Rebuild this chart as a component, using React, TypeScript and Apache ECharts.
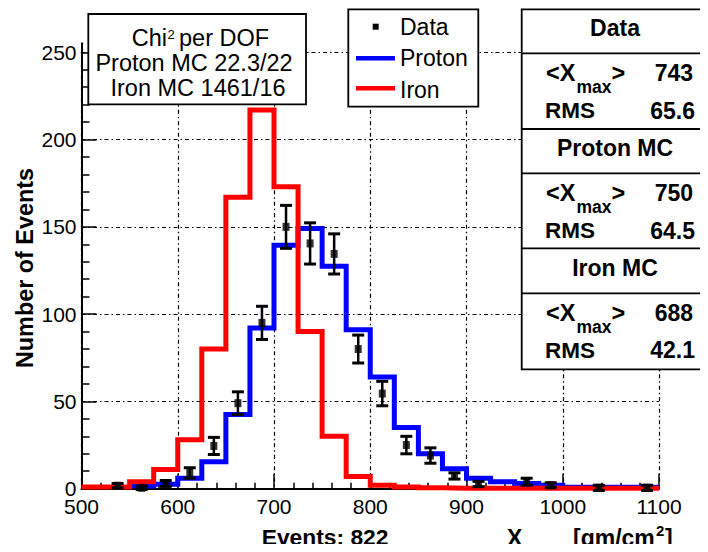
import { useEffect, useRef } from "react";
import * as echarts from "echarts";

// Histogram bins (lower edges, width 25 g/cm^2)
const binLow = [
  500, 525, 550, 575, 600, 625, 650, 675, 700, 725, 750, 775,
  800, 825, 850, 875, 900, 925, 950, 975, 1000, 1025, 1050, 1075,
];
const binWidth = 25;

// Monte Carlo predictions, normalised to the data
const protonMC = [
  null, null, 1.5, 2.5, 6, 15.5, 42.5, 92, 139.5, 149, 127.5, 91,
  64, 35, 20, 11.5, 6, 4, 3, 2, 0.8, 0.8, 0.8, 0.8,
];
const ironMC = [
  1, 1, 4, 11, 28, 80, 167, 217, 173, 90, 30, 7,
  2, 1, 0.5, 0.3, 0.2, 0.2, 0.2, 0.2, 0.2, 0.2, 0.2, 0.2,
];

// Measured events at bin centres, with their statistical errors
const dataX = [
  537.5, 562.5, 587.5, 612.5, 637.5, 662.5, 687.5, 712.5, 737.5, 762.5,
  787.5, 812.5, 837.5, 862.5, 887.5, 912.5, 962.5, 987.5, 1037.5, 1087.5,
];
const dataY = [
  1.7, 0.5, 3, 9, 24.5, 49, 95, 150, 140.5, 134.5,
  80, 54.5, 25, 19, 7.3, 2.7, 4, 2, 0.5, 0.5,
];
const dataErr = [
  1.3, 1, 1.7, 3, 4.9, 6.5, 9.5, 12.3, 11.8, 11.5,
  8, 7, 5, 4.4, 1.8, 1.5, 2, 1.4, 1.5, 1.5,
];

// Summary statistics
const chiLines = ["Proton MC 22.3/22", "Iron MC 1461/16"];
const statBlocks = [
  { title: "Data", mean: "743", rms: "65.6" },
  { title: "Proton MC", mean: "750", rms: "64.5" },
  { title: "Iron MC", mean: "688", rms: "42.1" },
];
const totalEvents = 822;

const FONT = '"Liberation Sans", Arial, sans-serif';

function stepData(values: (number | null)[]) {
  const pts: (number | null)[][] = binLow.map((x, i) => [x, values[i]]);
  pts.push([binLow[binLow.length - 1] + binWidth, values[values.length - 1]]);
  return pts;
}

function txt(
  text: string,
  x: number,
  y: number,
  size: number,
  opts: { bold?: boolean; align?: string; rotation?: number } = {}
) {
  const align = opts.align || "left";
  return {
    type: "text",
    x,
    y,
    rotation: opts.rotation || 0,
    z: 60,
    style: {
      text,
      font: `${opts.bold ? "bold " : ""}${size}px ${FONT}`,
      fill: "#000",
      textAlign: align,
      align,
      textVerticalAlign: "middle",
      verticalAlign: "middle",
    },
  };
}

function rect(x: number, y: number, w: number, h: number) {
  return {
    type: "rect",
    z: 50,
    shape: { x, y, width: w, height: h },
    style: { fill: "#fff", stroke: "#000", lineWidth: 1.8 },
  };
}

function hline(x1: number, x2: number, y: number, color: string, w: number) {
  return {
    type: "line",
    z: 55,
    shape: { x1, y1: y, x2, y2: y },
    style: { stroke: color, lineWidth: w },
  };
}

function buildGraphic() {
  const g: any[] = [];

  // Chi^2 box
  g.push(rect(88.3, 14, 217.7, 90.3));
  g.push(txt("Chi", 167, 38.3, 23.5, { align: "right" }));
  g.push(txt("2", 167.5, 34.5, 13));
  g.push(txt("per DOF", 179, 38.3, 23.5));
  g.push(txt(chiLines[0], 194, 63.3, 23.5, { align: "center" }));
  g.push(txt(chiLines[1], 198, 88.3, 23.5, { align: "center" }));

  // Legend box
  g.push(rect(348.3, 9.3, 130, 97.4));
  g.push({
    type: "rect",
    z: 56,
    shape: { x: 372.7, y: 23.7, width: 6, height: 6 },
    style: { fill: "#000" },
  });
  g.push(hline(356, 395, 58.3, "#0000ff", 4.5));
  g.push(hline(356, 395, 88.3, "#ff0000", 4.5));
  g.push(txt("Data", 400, 26.7, 23));
  g.push(txt("Proton", 400, 58.3, 23));
  g.push(txt("Iron", 400, 89.5, 23));

  // Statistics box
  g.push(rect(521.7, 9.3, 190, 360));
  [53.3, 129, 173.3, 248.3, 293.3].forEach((y) => g.push(hline(521.7, 708, y, "#000", 1.8)));
  const titleY = [28.3, 148.3, 268.3];
  const meanY = [73, 193, 313];
  const rmsY = [110.5, 230.5, 350];
  statBlocks.forEach((b, i) => {
    g.push(txt(b.title, 615, titleY[i], 23, { bold: true, align: "center" }));
    g.push(txt("<X", 546, meanY[i], 23.5, { bold: true }));
    g.push(txt("max", 576.5, meanY[i] + 13.5, 17.5, { bold: true }));
    g.push(txt(">", 611.5, meanY[i], 23.5, { bold: true }));
    g.push(txt(b.mean, 693, meanY[i], 23, { bold: true, align: "right" }));
    g.push(txt("RMS", 545, rmsY[i], 22.5, { bold: true }));
    g.push(txt(b.rms, 695, rmsY[i], 23, { bold: true, align: "right" }));
  });

  // Axis titles
  g.push(txt("Number of Events", 25, 268, 23.4, { bold: true, align: "center", rotation: Math.PI / 2 }));
  g.push(txt(`Events: ${totalEvents}`, 261.7, 537, 22.8, { bold: true }));
  g.push(txt("X", 507, 538, 23, { bold: true }));
  g.push(txt("max", 522.5, 551, 17, { bold: true }));
  g.push(txt("[gm/cm", 573, 538, 23, { bold: true }));
  g.push(txt("2", 656, 530, 15, { bold: true }));
  g.push(txt("]", 665, 538, 23, { bold: true }));
  return g;
}

const gridLineStyle = { color: "#000", width: 1.2, type: [4, 3, 1.5, 3] as number[] };

export default function App() {
  const ref = useRef<HTMLDivElement>(null);

  useEffect(() => {
    if (!ref.current) return;
    const chart = echarts.init(ref.current, undefined, { renderer: "svg" });

    const option: any = {
      animation: false,
      backgroundColor: "#fff",
      textStyle: { fontFamily: FONT },
      grid: [
        { left: 81.5, right: 49, top: 52.3, bottom: 63.3 },
        { left: 81.5, right: 49, top: 43.3, bottom: 63.3 },
      ],
      xAxis: [
        {
          type: "value",
          gridIndex: 0,
          min: 500,
          max: 1100,
          interval: 100,
          axisLine: { onZero: false, lineStyle: { color: "#000", width: 2 } },
          axisTick: { inside: true, length: 15, lineStyle: { color: "#000", width: 1.5 } },
          minorTick: { show: true, splitNumber: 5, length: 6, lineStyle: { color: "#000", width: 1.5 } },
          axisLabel: {
            color: "#000",
            fontSize: 21,
            fontFamily: FONT,
            margin: 7,
            formatter: (v: number) => String(v),
          },
          splitLine: { show: true, lineStyle: gridLineStyle },
        },
        { type: "value", gridIndex: 1, min: 500, max: 1100, show: false },
      ],
      yAxis: [
        {
          type: "value",
          gridIndex: 0,
          min: 0,
          max: 250,
          interval: 50,
          axisLine: { show: true, onZero: false, lineStyle: { color: "#000", width: 2 } },
          axisTick: { show: true, inside: true, length: 15, lineStyle: { color: "#000", width: 1.5 } },
          minorTick: { show: true, splitNumber: 5, length: 8, lineStyle: { color: "#000", width: 1.5 } },
          axisLabel: { color: "#000", fontSize: 21, fontFamily: FONT, margin: 5 },
          splitLine: { show: true, lineStyle: gridLineStyle },
        },
        {
          type: "value",
          gridIndex: 1,
          min: 0,
          max: 255,
          axisLine: { show: true, onZero: false, lineStyle: { color: "#000", width: 2 } },
          axisTick: { show: false },
          axisLabel: { show: false },
          splitLine: { show: false },
        },
      ],
      series: [
        {
          name: "Proton",
          type: "line",
          step: "end",
          xAxisIndex: 0,
          yAxisIndex: 0,
          data: stepData(protonMC),
          symbol: "none",
          connectNulls: false,
          lineStyle: { color: "#0000ff", width: 5, join: "miter", cap: "butt" },
          z: 3,
        },
        {
          name: "Iron",
          type: "line",
          step: "end",
          xAxisIndex: 0,
          yAxisIndex: 0,
          data: stepData(ironMC),
          symbol: "none",
          lineStyle: { color: "#ff0000", width: 5, join: "miter", cap: "butt" },
          z: 4,
        },
        {
          name: "DataErr",
          type: "custom",
          xAxisIndex: 0,
          yAxisIndex: 0,
          clip: false,
          z: 5,
          data: dataX.map((x, i) => [x, dataY[i] - dataErr[i], dataY[i] + dataErr[i]]),
          encode: { x: 0, y: [1, 2] },
          renderItem: (_params: any, api: any) => {
            const x = api.value(0);
            const lo = api.coord([x, api.value(1)]);
            const hi = api.coord([x, api.value(2)]);
            const cap = 6;
            const st = { stroke: "#000", lineWidth: 2.5 };
            return {
              type: "group",
              children: [
                { type: "line", shape: { x1: lo[0], y1: lo[1], x2: hi[0], y2: hi[1] }, style: st },
                { type: "line", shape: { x1: lo[0] - cap, y1: lo[1], x2: lo[0] + cap, y2: lo[1] }, style: { stroke: "#000", lineWidth: 3 } },
                { type: "line", shape: { x1: hi[0] - cap, y1: hi[1], x2: hi[0] + cap, y2: hi[1] }, style: { stroke: "#000", lineWidth: 3 } },
              ],
            };
          },
        },
        {
          name: "Data",
          type: "scatter",
          xAxisIndex: 0,
          yAxisIndex: 0,
          data: dataX.map((x, i) => [x, dataY[i]]),
          symbol: "rect",
          symbolSize: [7, 8],
          itemStyle: { color: "#000" },
          clip: false,
          z: 6,
        },
      ],
      graphic: buildGraphic(),
    };

    chart.setOption(option);
    return () => chart.dispose();
  }, []);

  return <div ref={ref} style={{ width: 708, height: 552, margin: -8 }} />;
}
